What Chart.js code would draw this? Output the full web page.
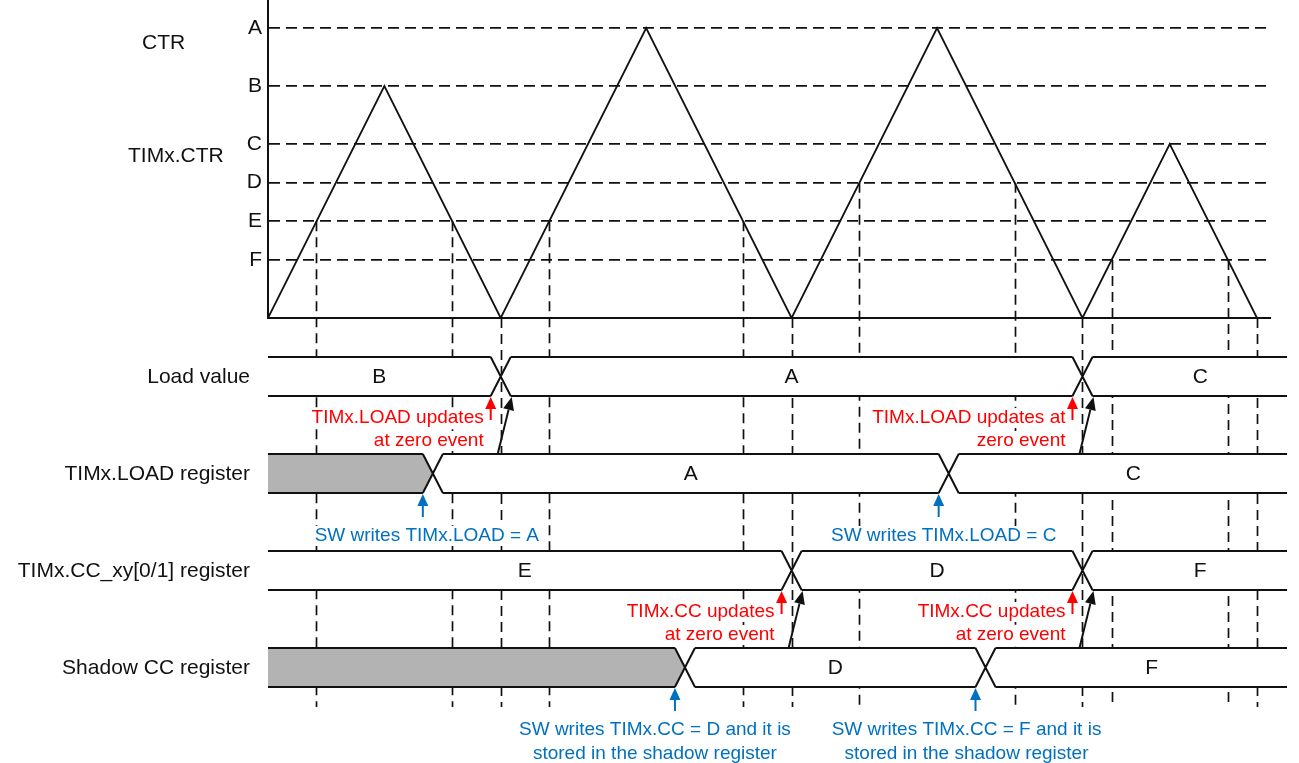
<!DOCTYPE html>
<html>
<head>
<meta charset="utf-8">
<script src="https://cdn.jsdelivr.net/npm/chart.js@4/dist/chart.umd.min.js"></script>
<style>
  html, body { margin: 0; padding: 0; background: #fff; }
  #wrap { width: 1299px; height: 763px; }
</style>
</head>
<body>
<div id="wrap"><canvas id="timing"></canvas></div>
<script>
// ---- data ----
const levelNames  = ['A', 'B', 'C', 'D', 'E', 'F'];
const levelValues = [150, 120, 90, 70, 50, 30];

// counter waveform (time in timer ticks, value in counts)
const ctrTimes  = [0, 120, 240, 390, 540, 690, 840, 930, 1020];
const ctrValues = [0, 120,   0, 150,   0, 150,   0,  90,    0];

// where the dashed guides drop from the counter
const markerTimes = [50, 190, 240, 290, 490, 540, 610, 770, 840, 870, 990, 1020];

// bus rows
const rowNames = ['Load value', 'TIMx.LOAD register', 'TIMx.CC_xy[0/1] register', 'Shadow CC register'];
const loadValueSegs  = ['B', 'A', 'C'];
const loadValueEdges = [240, 840];
const loadRegSegs    = [null, 'A', 'C'];   // null = not yet written (grey)
const loadRegEdges   = [170, 702];
const ccRegSegs      = ['E', 'D', 'F'];
const ccRegEdges     = [540, 840];
const shadowSegs     = [null, 'D', 'F'];
const shadowEdges    = [430, 740];

const rowSegs  = [loadValueSegs, loadRegSegs, ccRegSegs, shadowSegs];
const rowEdges = [loadValueEdges, loadRegEdges, ccRegEdges, shadowEdges];

// red notes: hardware update on the zero event (row, edge, text)
const hwNotes = [
  { row: 0, edge: 0, lines: ['TIMx.LOAD updates', 'at zero event'] },
  { row: 0, edge: 1, lines: ['TIMx.LOAD updates at', 'zero event'] },
  { row: 2, edge: 0, lines: ['TIMx.CC updates', 'at zero event'] },
  { row: 2, edge: 1, lines: ['TIMx.CC updates', 'at zero event'] }
];
// blue notes: software writes
const swNotes = [
  { row: 1, edge: 0, lines: ['SW writes TIMx.LOAD = A'] },
  { row: 1, edge: 1, lines: ['SW writes TIMx.LOAD = C'] },
  { row: 3, edge: 0, lines: ['SW writes TIMx.CC = D and it is', 'stored in the shadow register'] },
  { row: 3, edge: 1, lines: ['SW writes TIMx.CC = F and it is', 'stored in the shadow register'] }
];

// ---- layout / style ----
const FONT = 'Arial, "Liberation Sans", sans-serif';
const INK = '#111';
const RED = '#ff0000';
const BLUE = '#0070c0';
const GREY = '#b3b3b3';
const ROW_TOP = [357, 454, 551, 648];
const ROW_H = 39;
const EDGE_HALF = 10;
const BUS_END = 1287;
const LABEL_END = 1308;
const GUIDE_BOTTOM = 707;
const SW_SHIFT = [4, 5, -20, -9];

function ctrAt(t) {
  for (let i = 1; i < ctrTimes.length; i++) {
    if (t <= ctrTimes[i]) {
      const f = (t - ctrTimes[i - 1]) / (ctrTimes[i] - ctrTimes[i - 1]);
      return ctrValues[i - 1] + f * (ctrValues[i] - ctrValues[i - 1]);
    }
  }
  return 0;
}

function arrow(ctx, x1, y1, x2, y2, color, len, half) {
  const a = Math.atan2(y2 - y1, x2 - x1);
  const bx = x2 - len * Math.cos(a), by = y2 - len * Math.sin(a);
  ctx.strokeStyle = color;
  ctx.fillStyle = color;
  ctx.lineWidth = 2;
  ctx.setLineDash([]);
  ctx.beginPath();
  ctx.moveTo(x1, y1);
  ctx.lineTo(bx, by);
  ctx.stroke();
  ctx.beginPath();
  ctx.moveTo(x2, y2);
  ctx.lineTo(bx + half * Math.sin(a), by - half * Math.cos(a));
  ctx.lineTo(bx - half * Math.sin(a), by + half * Math.cos(a));
  ctx.closePath();
  ctx.fill();
}

function noteText(ctx, text, x, baseline, align, color) {
  ctx.font = '19px ' + FONT;
  const w = ctx.measureText(text).width;
  const left = align === 'right' ? x - w : align === 'center' ? x - w / 2 : x;
  ctx.fillStyle = '#fff';
  ctx.fillRect(left - 1, baseline - 15, w + 2, 20);
  ctx.fillStyle = color;
  ctx.textAlign = align;
  ctx.textBaseline = 'alphabetic';
  ctx.fillText(text, x, baseline);
}

function drawBus(ctx, xs, top, segs, edges) {
  const bot = top + ROW_H, mid = top + ROW_H / 2, h = EDGE_HALF;
  const left = xs.getPixelForValue(0);
  const cs = edges.map(t => xs.getPixelForValue(t));

  segs.forEach((val, i) => {
    const first = i === 0, last = i === segs.length - 1;
    const l = first ? left : cs[i - 1];
    const r = last ? BUS_END : cs[i];
    ctx.beginPath();
    if (first) ctx.moveTo(l, top); else { ctx.moveTo(l, mid); ctx.lineTo(l + h, top); }
    if (last) { ctx.lineTo(r, top); ctx.lineTo(r, bot); }
    else { ctx.lineTo(r - h, top); ctx.lineTo(r, mid); ctx.lineTo(r - h, bot); }
    ctx.lineTo(first ? l : l + h, bot);
    ctx.closePath();
    ctx.fillStyle = val === null ? GREY : '#fff';
    ctx.fill();

    if (val !== null) {
      const a = first ? l : l + h;
      const b = last ? LABEL_END : r - h;
      ctx.fillStyle = INK;
      ctx.font = '21px ' + FONT;
      ctx.textAlign = 'center';
      ctx.textBaseline = 'middle';
      ctx.fillText(val, (a + b) / 2, mid + 1);
    }
  });

  // outline: top and bottom rails plus the crossings
  ctx.strokeStyle = INK;
  ctx.lineWidth = 2;
  ctx.setLineDash([]);
  ctx.beginPath();
  const stops = [left].concat(cs, [BUS_END]);
  for (let i = 0; i < stops.length - 1; i++) {
    const a = i === 0 ? stops[i] : stops[i] + h;
    const b = i === stops.length - 2 ? stops[i + 1] : stops[i + 1] - h;
    ctx.moveTo(a, top); ctx.lineTo(b, top);
    ctx.moveTo(a, bot); ctx.lineTo(b, bot);
  }
  cs.forEach(c => {
    ctx.moveTo(c - h, top); ctx.lineTo(c + h, bot);
    ctx.moveTo(c - h, bot); ctx.lineTo(c + h, top);
  });
  ctx.stroke();
}

const timingPlugin = {
  id: 'timing',
  beforeDatasetsDraw(chart) {
    const { ctx, scales: { x, y } } = chart;
    ctx.save();
    ctx.strokeStyle = INK;
    ctx.lineWidth = 1.7;
    ctx.setLineDash([10, 6]);
    markerTimes.forEach(t => {
      const px = Math.round(x.getPixelForValue(t)) + 0.5;
      ctx.beginPath();
      ctx.moveTo(px, y.getPixelForValue(ctrAt(t)));
      ctx.lineTo(px, GUIDE_BOTTOM);
      ctx.stroke();
    });
    ctx.restore();
  },
  afterDraw(chart) {
    const { ctx, scales: { x } } = chart;
    ctx.save();

    rowSegs.forEach((segs, r) => drawBus(ctx, x, ROW_TOP[r], segs, rowEdges[r]));

    // left titles
    ctx.fillStyle = INK;
    ctx.font = '21px ' + FONT;
    ctx.textBaseline = 'alphabetic';
    ctx.textAlign = 'left';
    ctx.fillText('CTR', 142, 49);
    ctx.fillText('TIMx.CTR', 128, 162);
    ctx.textAlign = 'right';
    ctx.textBaseline = 'middle';
    rowNames.forEach((name, r) => ctx.fillText(name, 250, ROW_TOP[r] + ROW_H / 2 + 1));

    // red: update at zero event, black: value handed up
    hwNotes.forEach(n => {
      const c = x.getPixelForValue(rowEdges[n.row][n.edge]);
      const bot = ROW_TOP[n.row] + ROW_H;
      const ax = c - EDGE_HALF;
      arrow(ctx, c - 3, ROW_TOP[n.row + 1], c + EDGE_HALF + 1, bot + 1, INK, 13, 5.5);
      n.lines.forEach((s, i) => noteText(ctx, s, ax - 7, bot + 27 + i * 23, 'right', RED));
      arrow(ctx, ax, bot + 24, ax, bot + 1, RED, 12, 5.5);
    });

    // blue: software writes
    swNotes.forEach((n, k) => {
      const c = x.getPixelForValue(rowEdges[n.row][n.edge]);
      const bot = ROW_TOP[n.row] + ROW_H;
      const ax = c - EDGE_HALF;
      n.lines.forEach((s, i) => noteText(ctx, s, ax + SW_SHIFT[k], bot + 48 + i * 24, 'center', BLUE));
      arrow(ctx, ax, bot + 24, ax, bot + 1, BLUE, 12, 5.5);
    });

    ctx.restore();
  }
};

new Chart(document.getElementById('timing'), {
  type: 'line',
  data: {
    datasets: [{
      data: ctrTimes.map((t, i) => ({ x: t, y: ctrValues[i] })),
      borderColor: INK,
      borderWidth: 1.8,
      pointRadius: 0,
      tension: 0,
      fill: false
    }]
  },
  options: {
    responsive: true,
    maintainAspectRatio: false,
    animation: false,
    events: [],
    layout: { padding: { top: 0, right: 29, bottom: 445, left: 0 } },
    plugins: { legend: { display: false }, tooltip: { enabled: false } },
    scales: {
      x: {
        type: 'linear',
        min: 0,
        max: 1033.4,
        grid: { display: false },
        ticks: { display: false },
        border: { display: true, color: INK, width: 2 },
        afterFit: s => {
          s.height = 0;
          s.paddingLeft = 0;
          s.paddingRight = 0;
        }
      },
      y: {
        type: 'linear',
        min: 0,
        max: 164.5,
        grid: { color: INK, lineWidth: 1.7, drawTicks: false },
        border: { display: true, color: INK, width: 2, dash: [11, 6] },
        ticks: {
          padding: 6,
          color: INK,
          font: { family: FONT, size: 21 },
          callback: v => levelNames[levelValues.indexOf(v)] || ''
        },
        afterBuildTicks: s => { s.ticks = levelValues.map(v => ({ value: v })); },
        afterFit: s => {
          s.width = 268;
          s.paddingTop = 0;
          s.paddingBottom = 0;
        }
      }
    }
  },
  plugins: [timingPlugin]
});
</script>
</body>
</html>
